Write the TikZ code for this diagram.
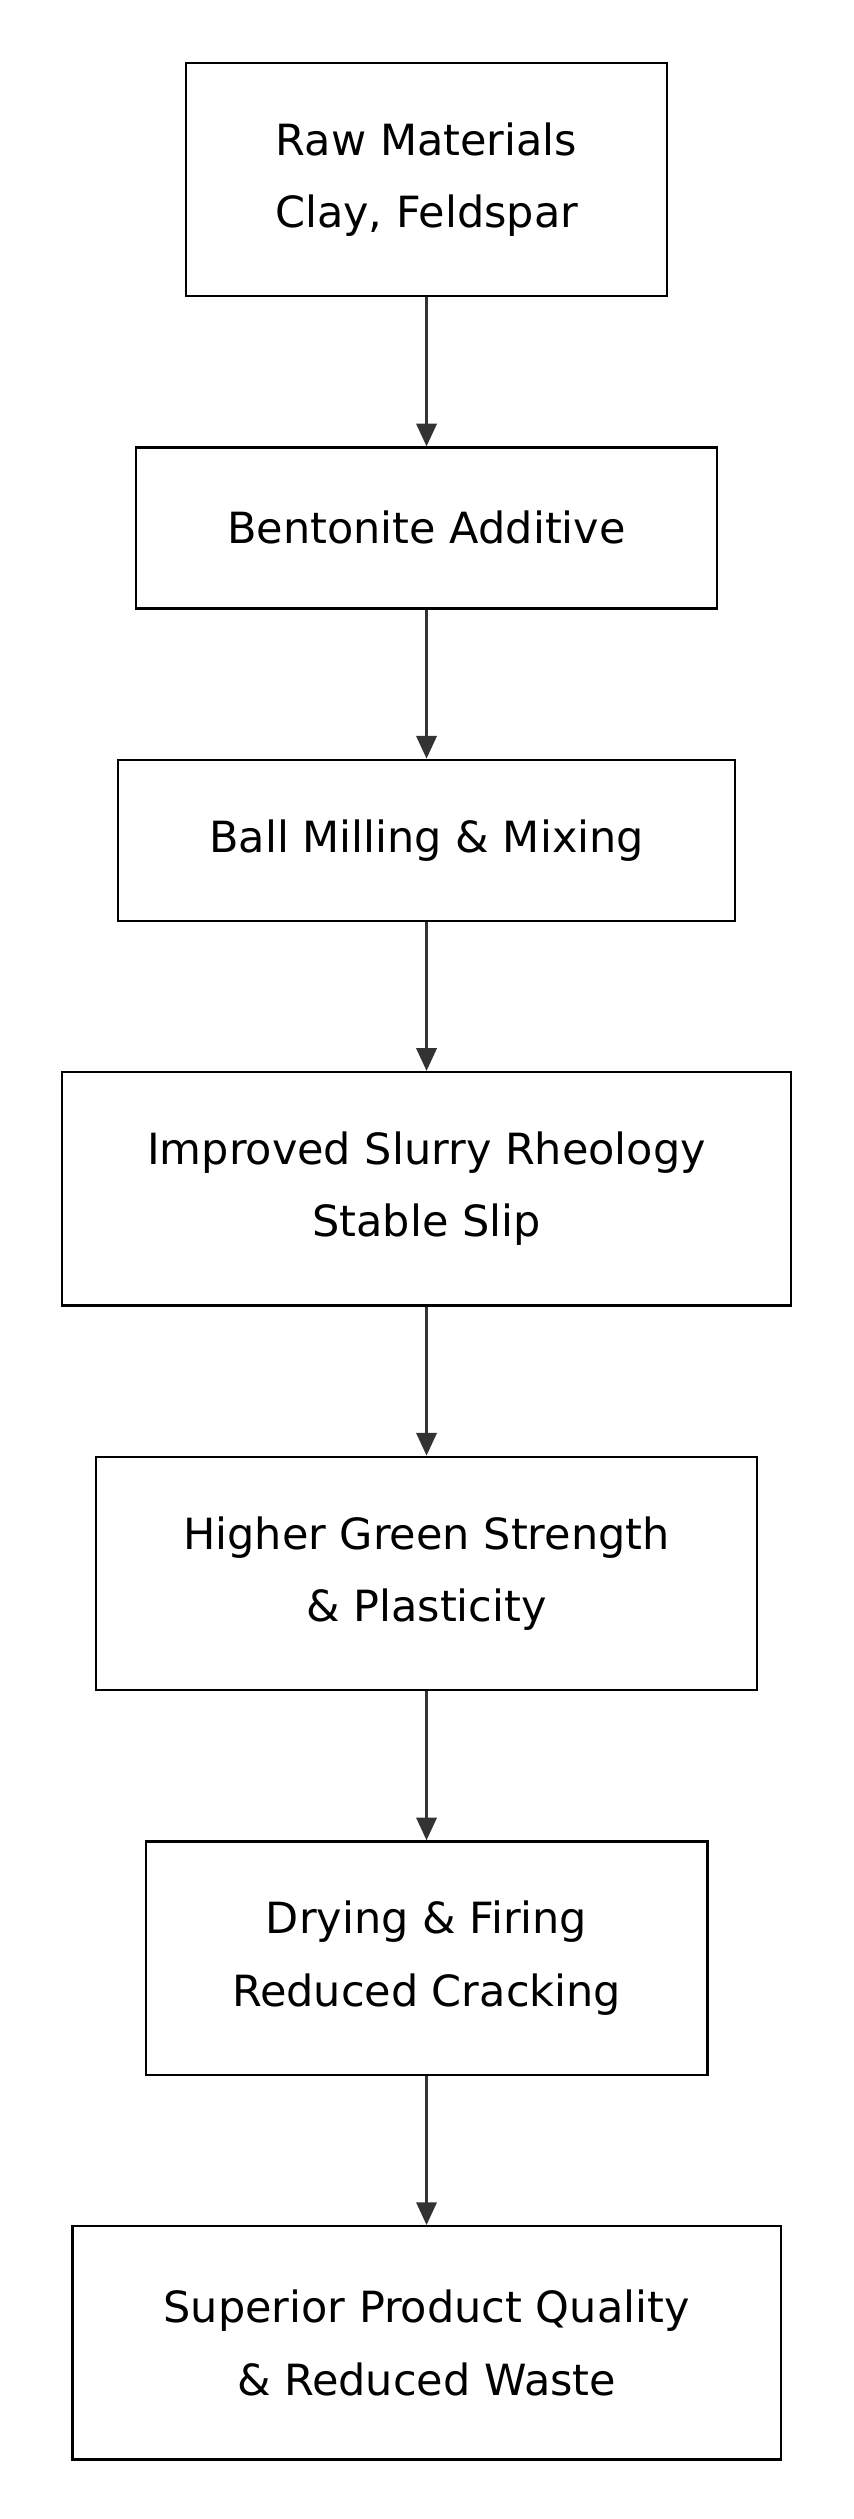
\documentclass[tikz,border=0pt]{standalone}
\usepackage{fontspec}
\setmainfont{DejaVu Sans}
\usetikzlibrary{arrows.meta}

\begin{document}
\begin{tikzpicture}[x=0.05cm, y=-0.05cm,
    stage/.style = {draw, line width=2pt, align=center, inner sep=0pt, font=\fontsize{38}{64}\selectfont},
    flow/.style = {-{Triangle[length=20pt, width=18pt]}, line width=2pt, draw=black!80}]
    \useasboundingbox (0,0) rectangle (530,1565);

    \node at (265,111.5) [stage, minimum width = 14.95cm, minimum height = 7.25cm] (raw) {Raw Materials\\Clay, Feldspar};
    \node at (265,328) [stage, minimum width = 18.05cm, minimum height = 5cm] (bent) {Bentonite Additive};
    \node at (265,522) [stage, minimum width = 19.15cm, minimum height = 5cm] (mill) {Ball Milling \& Mixing};
    \node at (265,738.5) [stage, minimum width = 22.65cm, minimum height = 7.25cm] (slurry) {Improved Slurry Rheology\\Stable Slip};
    \node at (265,977.5) [stage, minimum width = 20.55cm, minimum height = 7.25cm] (green) {Higher Green Strength\\\& Plasticity};
    \node at (265,1216.5) [stage, minimum width = 17.45cm, minimum height = 7.25cm] (dry) {Drying \& Firing\\Reduced Cracking};
    \node at (265,1455.5) [stage, minimum width = 22cm, minimum height = 7.25cm] (qual) {Superior Product Quality\\\& Reduced Waste};

    \draw[flow] (raw) -- (bent);
    \draw[flow] (bent) -- (mill);
    \draw[flow] (mill) -- (slurry);
    \draw[flow] (slurry) -- (green);
    \draw[flow] (green) -- (dry);
    \draw[flow] (dry) -- (qual);
\end{tikzpicture}
\end{document}
